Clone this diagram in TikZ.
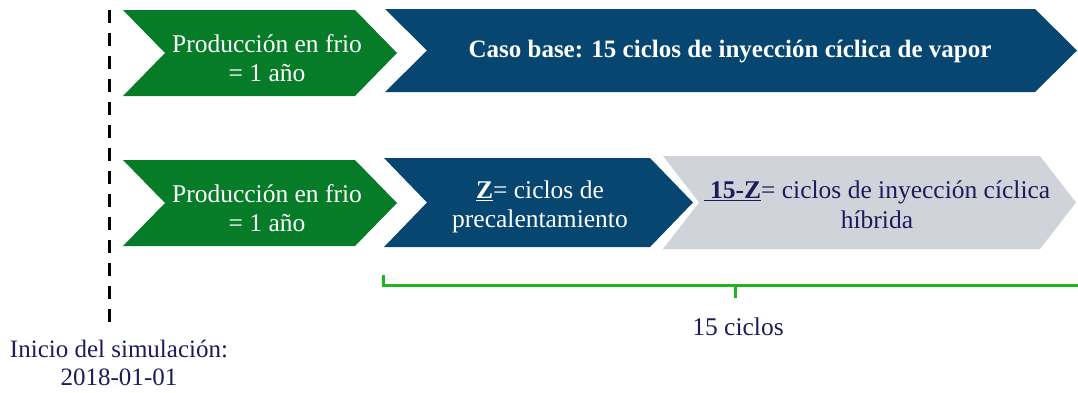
\documentclass[tikz,border=0pt]{standalone}
\usepackage{fontspec}
\setmainfont{Liberation Serif}
\definecolor{cgreen}{HTML}{077C28}
\definecolor{cblue}{HTML}{064670}
\definecolor{cgray}{HTML}{D0D3D9}
\definecolor{cnavy}{HTML}{1C1C5C}
\definecolor{cbrack}{HTML}{1FB41F}
\newcommand{\chevron}[6]{%
  \fill[#6] (#1,#3) -- (#2,#3) -- ({#2+#5},{(#3+#4)/2}) -- (#2,#4) -- (#1,#4) -- ({#1+#5},{(#3+#4)/2}) -- cycle;}
\begin{document}
\begin{tikzpicture}[x=1pt,y=-1pt,
  lbl/.style={align=center,font=\fontsize{25.5}{29.5}\selectfont,inner sep=0pt},
  wlbl/.style={lbl,text=white},
  nlbl/.style={lbl,text=cnavy}]
\useasboundingbox (0,0) rectangle (1078,392);
% dashed start line
\coordinate (dtop) at (109,10);
\coordinate (dbot) at (109,326);
\draw[line width=3pt,dash pattern=on 13pt off 10pt] (dtop) -- (dbot);
% top row
\chevron{123}{355}{10}{96}{42}{cgreen}
\chevron{385}{1035}{9}{92}{42}{cblue}
% bottom row
\chevron{123}{355}{160}{246}{42}{cgreen}
\chevron{663}{1040}{156}{249}{36}{cgray}
\chevron{384}{650}{158}{247}{43}{cblue}
% labels
\node[wlbl] (g1) at (267,58) {Producción en frio\\= 1 año};
\node[wlbl,font=\fontsize{25}{29}\selectfont\bfseries] (b1) at (730,52) {Caso base: 15 ciclos de inyección cíclica de vapor};
\node[wlbl] (g2) at (267,208) {Producción en frio\\= 1 año};
\node[wlbl] (b2) at (540,207) {\underline{\textbf{Z}}= ciclos de\\precalentamiento};
\node[nlbl] (y2) at (877,205) {\underline{\textbf{\ 15-Z}}= ciclos de inyección cíclica\\híbrida};
% bracket
\coordinate (bl) at (383,275);
\coordinate (blb) at (383,285);
\coordinate (bm) at (735,285);
\coordinate (bmt) at (735,298);
\coordinate (br) at (1078,285);
\draw[cbrack,line width=3pt] (bl) -- (blb) -- (br);
\draw[cbrack,line width=3pt] (bm) -- (bmt);
\node[nlbl] (n15) at (738,327) {15 ciclos};
\node[nlbl,font=\fontsize{25}{28.5}\selectfont] (ini) at (119,363) {Inicio del simulación:\\2018-01-01};
\end{tikzpicture}
\end{document}
